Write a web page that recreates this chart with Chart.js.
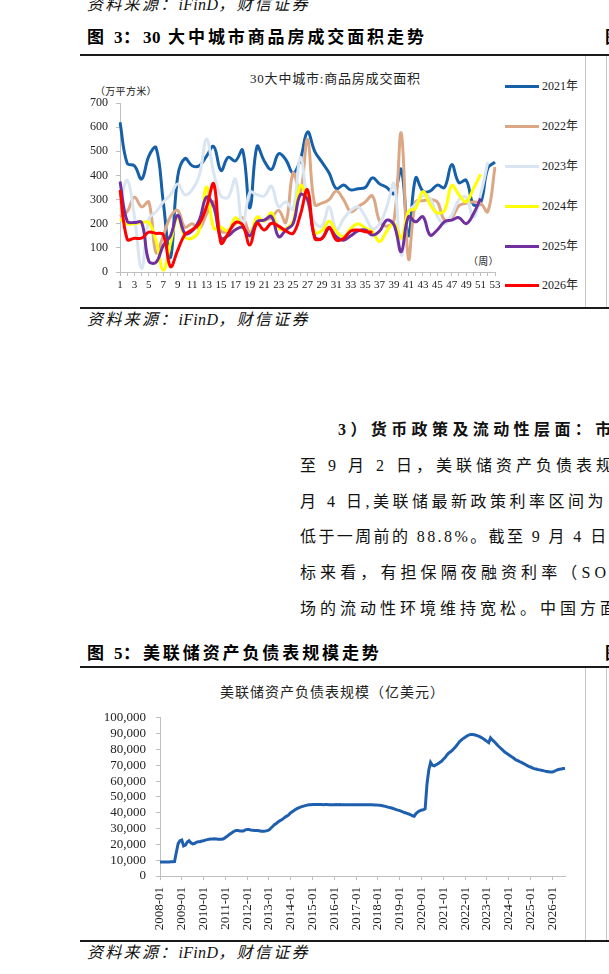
<!DOCTYPE html>
<html><head><meta charset="utf-8">
<script src="https://cdn.jsdelivr.net/npm/chart.js@4.4.1/dist/chart.umd.min.js"></script>
<style>
html,body{margin:0;padding:0;background:#fff;}
body{width:609px;height:974px;position:relative;overflow:hidden;font-family:"Liberation Serif","Noto Sans CJK SC",serif;color:#000;}
.abs{position:absolute;white-space:nowrap;}
.src{font-style:italic;font-size:16px;letter-spacing:2.3px;line-height:20px;color:#111;}
.src b{font-weight:normal;letter-spacing:0.3px;}
.hd{font-weight:bold;font-size:17px;letter-spacing:2.9px;line-height:22px;}
.hd b{letter-spacing:0.5px;}
.rule{position:absolute;left:80px;width:529px;height:2px;background:#1a1a1a;}
.vl{position:absolute;width:1px;background:#c8c8c8;}
.para{font-size:16px;letter-spacing:4px;line-height:20px;color:#111;}
.ct{font-size:13px;letter-spacing:0.8px;line-height:16px;color:#222;}
.sm{font-size:10px;letter-spacing:0.3px;line-height:12px;color:#222;}
.lg{position:absolute;left:505px;width:90px;height:14px;}
.lg i{position:absolute;left:0;top:6px;width:34px;height:3px;}
.lg span{position:absolute;left:37px;top:0;font-size:12px;line-height:14px;color:#222;}
</style></head>
<body>
<div class="abs src" style="left:87px;top:-5px;">资料来源：<b>iFinD</b>，财信证券</div>
<div class="abs hd" style="left:87px;top:27px;">图 <b>3</b>：<b>30</b> 大中城市商品房成交面积走势</div>
<div class="abs hd" style="left:605px;top:27px;">图</div>
<div class="rule" style="top:54px;"></div>
<div class="vl" style="left:585px;top:56px;height:251px;"></div>
<div class="vl" style="left:606px;top:56px;height:251px;"></div>

<div class="abs ct" style="left:250px;top:71px;">30大中城市:商品房成交面积</div>
<div class="abs sm" style="left:95px;top:86px;">（万平方米）</div>
<div class="abs sm" style="left:468px;top:256px;">（周）</div>
<div id="legend1"></div>
<canvas id="c1" class="abs" style="left:80px;top:57px;"></canvas>

<div class="rule" style="top:307px;"></div>
<div class="abs src" style="left:87px;top:310px;">资料来源：<b>iFinD</b>，财信证券</div>

<div class="abs para" style="left:338px;top:420px;font-weight:bold;letter-spacing:4.4px;">3）货币政策及流动性层面：市场</div>
<div class="abs para" style="left:300px;top:456px;">至 9 月 2 日，美联储资产负债表规模</div>
<div class="abs para" style="left:300px;top:492px;letter-spacing:3.5px;">月 4 日,美联储最新政策利率区间为 4</div>
<div class="abs para" style="left:300px;top:527px;letter-spacing:2.4px;">低于一周前的 88.8%。截至 9 月 4 日</div>
<div class="abs para" style="left:300px;top:563px;letter-spacing:4.1px;">标来看，有担保隔夜融资利率（SOFR</div>
<div class="abs para" style="left:300px;top:599px;">场的流动性环境维持宽松。中国方面</div>

<div class="abs hd" style="left:87px;top:643px;">图 <b>5</b>：美联储资产负债表规模走势</div>
<div class="abs hd" style="left:605px;top:643px;">图</div>
<div class="rule" style="top:666px;"></div>
<div class="vl" style="left:585px;top:668px;height:272px;"></div>
<div class="vl" style="left:606px;top:668px;height:272px;"></div>
<div class="abs" style="left:220px;top:684px;font-size:14px;letter-spacing:1px;line-height:17px;color:#222;">美联储资产负债表规模（亿美元）</div>
<canvas id="c2" class="abs" style="left:80px;top:700px;"></canvas>
<div class="rule" style="top:940px;"></div>
<div class="abs src" style="left:87px;top:943px;">资料来源：<b>iFinD</b>，财信证券</div>

<script>
// ---------- Chart 1: 30大中城市商品房成交面积 (万平方米), by week ----------
const weeks = ['1','2','3','4','5','6','7','8','9','10','11','12','13','14','15','16','17','18','19','20','21','22','23','24','25','26','27','28','29','30','31','32','33','34','35','36','37','38','39','40','41','42','43','44','45','46','47','48','49','50','51','52','53'];
const s2021 = [620,450,440,385,480,515,290,60,395,470,440,440,480,520,420,475,460,505,265,520,460,425,490,465,410,465,580,500,455,410,345,360,340,345,350,390,365,350,325,425,150,390,335,335,360,350,445,370,380,280,285,430,455];
const s2022 = [230,250,310,270,290,80,150,230,255,185,200,180,240,290,170,170,200,225,165,210,215,225,255,205,410,330,550,280,285,300,335,300,250,270,290,315,210,190,215,575,55,290,295,300,290,215,225,275,285,290,285,250,435];
const s2023 = [280,380,230,15,220,250,290,320,365,320,340,400,550,410,315,310,385,190,330,320,315,355,270,290,260,475,300,205,190,270,175,220,255,270,230,180,200,270,365,70,250,280,315,305,230,200,235,300,310,225,320,455];
const s2024 = [220,200,200,205,205,130,8,120,228,145,140,175,352,180,185,170,225,185,150,228,210,245,180,180,210,358,300,165,172,210,167,146,180,200,182,167,126,170,202,141,250,265,333,280,245,255,358,320,291,345,405];
const s2025 = [375,210,205,205,45,40,110,150,235,160,170,215,310,270,140,150,175,185,150,208,215,230,146,174,200,320,300,146,139,180,146,132,150,170,174,153,170,215,195,84,229,208,229,153,174,208,215,225,200,240,305];
const s2026 = [340,135,140,140,165,160,155,22,90,155,175,200,270,365,120,160,205,195,112,202,174,202,190,170,160,236,340,140,139,185,132,139,170,174,167,165];
const seriesNames = ['2021年','2022年','2023年','2024年','2025年','2026年'];
const seriesData = [s2021,s2022,s2023,s2024,s2025,s2026];
const seriesColors = ['#1560A8','#DBA785','#DAE5F2','#FFFF00','#7030A0','#FF0000'];
const legendRowY = [79,119,159,199,239,278];

// ---------- Chart 2: 美联储资产负债表规模 (亿美元), monthly from 2008-01 ----------
const fedStartYear = 2008;
const fedYearLabels = ['2008-01','2009-01','2010-01','2011-01','2012-01','2013-01','2014-01','2015-01','2016-01','2017-01','2018-01','2019-01','2020-01','2021-01','2022-01','2023-01','2024-01','2025-01','2026-01'];
const fed2008 = [8900,8900,8900,8900,8900,8900,9000,9000,9100,15000,20500,22300];
const fed2009 = [22800,19000,19500,21500,22300,21000,20300,20500,21300,21600,21700,22100];
const fed2010 = [22300,22700,23000,23200,23400,23400,23500,23400,23300,23300,23200,23500];
const fed2011 = [24300,25100,26100,26900,27700,28400,28700,28700,28500,28500,28500,29200];
const fed2012 = [29400,29400,29000,28900,28800,28800,28700,28500,28300,28300,28400,28700];
const fed2013 = [29100,30200,31300,32400,33200,34100,34900,35600,36400,37300,38000,38800];
const fed2014 = [40000,40800,41600,42300,42900,43400,43800,44200,44500,44800,45000,45100];
const fed2015 = [45200,45200,45200,45200,45200,45200,45100,45200,45200,45100,45100,45100];
const fed2016 = [45100,45200,45100,45200,45100,45100,45100,45100,45100,45100,45100,45100];
const fed2017 = [45100,45000,45000,45000,45100,45100,45100,45000,45000,45000,44900,44900];
const fed2018 = [44800,44700,44500,44300,44000,43700,43400,43100,42800,42400,42000,41600];
const fed2019 = [41300,40900,40400,40000,39600,39200,38700,38100,37800,39500,40500,41200];
const fed2020 = [41700,41800,42400,58000,67000,71800,70000,69600,70300,71000,71800,72500];
const fed2021 = [73800,74900,76500,77800,78500,79500,80800,82000,83500,85000,86000,87000];
const fed2022 = [87700,88500,89100,89500,89500,89300,89000,88600,88100,87500,86800,86000];
const fed2023 = [85100,84300,87300,86000,85000,83800,82500,81400,80300,79300,78200,77400];
const fed2024 = [76600,75800,75100,74300,73400,72900,72300,71800,71200,70600,69900,69300];
const fed2025 = [68900,68400,67900,67600,67300,67100,66800,66600,66300,66100,65900,65700];
const fed2026 = [65800,66100,66700,67200,67500,67700,67900,68000];
const fedValues = [].concat(fed2008,fed2009,fed2010,fed2011,fed2012,fed2013,fed2014,fed2015,fed2016,fed2017,fed2018,fed2019,fed2020,fed2021,fed2022,fed2023,fed2024,fed2025,fed2026);

const FONT = "'Liberation Serif','Noto Sans CJK SC',serif";
const AXIS = '#bfbfbf';

// legend
const lg = document.getElementById('legend1');
seriesNames.forEach((n,i)=>{
  const d = document.createElement('div');
  d.className='lg'; d.style.top = legendRowY[i]+'px';
  d.innerHTML = '<i style="background:'+seriesColors[i]+'"></i><span>'+n+'</span>';
  lg.appendChild(d);
});

function setSize(id,w,h){const c=document.getElementById(id);c.width=w;c.height=h;c.style.width=w+'px';c.style.height=h+'px';return c;}

const c1 = setSize('c1',505,250);
new Chart(c1,{
  type:'line',
  data:{labels:weeks,datasets:seriesData.map((d,i)=>({label:seriesNames[i],data:d,borderColor:seriesColors[i],backgroundColor:seriesColors[i],borderWidth:3,pointRadius:0,tension:0.4,fill:false,order:5-i}))},
  options:{
    responsive:false,animation:false,devicePixelRatio:1,
    layout:{padding:{left:0,right:90,top:46,bottom:0}},
    plugins:{legend:{display:false},tooltip:{enabled:false},title:{display:false}},
    scales:{
      x:{type:'category',offset:false,
        grid:{display:true,drawOnChartArea:false,drawTicks:true,tickLength:4,color:AXIS},
        border:{display:true,color:AXIS,width:1},
        ticks:{autoSkip:false,maxRotation:0,minRotation:0,padding:3,color:'#222',font:{family:FONT,size:11},
          callback:function(v,i){return (i%2===0)?weeks[i]:'';}},
        afterFit:function(s){s.height=35;}},
      y:{min:0,max:700,
        grid:{display:true,drawOnChartArea:false,drawTicks:true,tickLength:4,color:AXIS},
        border:{display:true,color:AXIS,width:1},
        ticks:{stepSize:100,autoSkip:false,padding:8,color:'#222',font:{family:FONT,size:12}},
        afterFit:function(s){s.width=40;}}
    }
  }
});

const c2 = setSize('c2',505,240);
const fedPoints = fedValues.map((v,i)=>({x:fedStartYear+i/12,y:v}));
new Chart(c2,{
  type:'line',
  data:{datasets:[{label:'美联储资产负债表规模',data:fedPoints,borderColor:'#1F5FAF',borderWidth:3,pointRadius:0,tension:0,fill:false}]},
  options:{
    responsive:false,animation:false,devicePixelRatio:1,
    layout:{padding:{left:0,right:20,top:9,bottom:0}},
    plugins:{legend:{display:false},tooltip:{enabled:false}},
    scales:{
      x:{type:'linear',min:fedStartYear,max:fedStartYear+(fedValues.length-1)/12,
        grid:{display:true,drawOnChartArea:false,drawTicks:true,tickLength:4,color:AXIS},
        border:{display:true,color:AXIS,width:1},
        ticks:{stepSize:1,maxTicksLimit:40,includeBounds:false,autoSkip:false,minRotation:90,maxRotation:90,padding:7,color:'#222',font:{family:FONT,size:13},
          callback:function(v){const k=Math.round(v)-fedStartYear;return (Math.abs(v-Math.round(v))<1e-6 && fedYearLabels[k])?fedYearLabels[k]:null;}},
        afterFit:function(s){s.height=64;}},
      y:{min:0,max:100000,
        grid:{display:true,drawOnChartArea:false,drawTicks:true,tickLength:4,color:AXIS},
        border:{display:true,color:AXIS,width:1},
        ticks:{stepSize:10000,autoSkip:false,maxTicksLimit:20,padding:10,color:'#222',font:{family:FONT,size:13},
          callback:function(v){return v.toLocaleString('en-US');}},
        afterFit:function(s){s.width=80;}}
    }
  }
});
</script>
</body></html>
